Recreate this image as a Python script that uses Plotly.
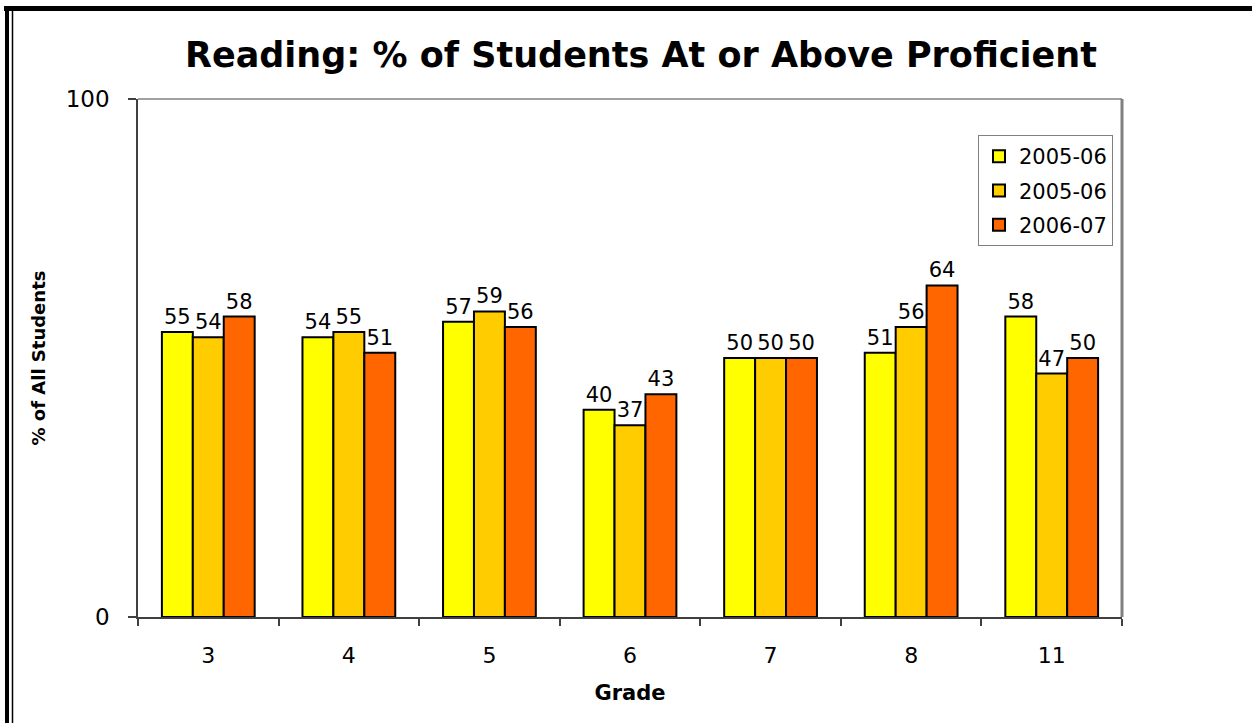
import plotly.graph_objects as go

# Reading proficiency by grade, three series
grades = ["3", "4", "5", "6", "7", "8", "11"]
series_names = ["2005-06", "2005-06", "2006-07"]
values_a = [55, 54, 57, 40, 50, 51, 58]
values_b = [54, 55, 59, 37, 50, 56, 47]
values_c = [58, 51, 56, 43, 50, 64, 50]
colors = ["#FFFF00", "#FFCC00", "#FF6600"]

W, H = 1252, 723
L, R, T, B = 138, 1122, 99, 617  # plot area in pixels

def px(X):
    return (X - L) / (R - L)

def py(Y):
    return (B - Y) / (B - T)

font = "DejaVu Sans, Arial"

fig = go.Figure()
for i, (name, vals, col) in enumerate(zip(series_names, [values_a, values_b, values_c], colors)):
    fig.add_trace(go.Bar(
        x=grades, y=vals, name=name, legendgroup=f"g{i}",
        marker=dict(color=col, line=dict(color="#000000", width=2)),
        text=[str(v) for v in vals], textposition="outside",
        textfont=dict(family=font, size=21, color="#000000"),
        cliponaxis=False,
    ))

fig.update_layout(
    width=W, height=H,
    margin=dict(l=L, r=W - R, t=T, b=H - B),
    paper_bgcolor="white", plot_bgcolor="white",
    barmode="group", bargap=0.34, bargroupgap=0,
    title=dict(text="<b>Reading: % of Students At or Above Proficient</b>",
               x=(641 / W), xanchor="center", y=1 - 55 / H, yanchor="middle",
               font=dict(family=font, size=35, color="#000000")),
    legend=dict(x=px(978), y=py(135), xanchor="left", yanchor="top",
                bordercolor="#808080", borderwidth=1, bgcolor="white",
                font=dict(family=font, size=21, color="#000000"),
                itemwidth=30, tracegroupgap=4),
    showlegend=True,
    xaxis=dict(
        type="category", tickson="boundaries", ticks="outside", ticklen=7,
        tickcolor="#404040", tickwidth=1.5,
        showline=True, linecolor="#404040", linewidth=1.5,
        showgrid=False, ticklabelstandoff=18,
        tickfont=dict(family=font, size=22, color="#000000"),
        title=dict(text="<b>Grade</b>", standoff=18,
                   font=dict(family=font, size=21, color="#000000")),
    ),
    yaxis=dict(
        range=[0, 100], tickvals=[0, 100], ticks="outside", ticklen=8,
        tickcolor="#404040", tickwidth=1.5,
        showline=True, linecolor="#404040", linewidth=1.5,
        showgrid=False, zeroline=False, ticklabelstandoff=14,
        tickfont=dict(family=font, size=23, color="#000000"),
        title=dict(text="<b>% of All Students</b>", standoff=15,
                   font=dict(family=font, size=18, color="#000000")),
    ),
)

# Plot-area frame (top and right edges in gray)
fig.add_shape(type="line", xref="paper", yref="paper", x0=0, x1=1, y0=1, y1=1,
              line=dict(color="#808080", width=1.5))
fig.add_shape(type="line", xref="paper", yref="paper", x0=1, x1=1, y0=0, y1=1,
              line=dict(color="#808080", width=3))

# Outer page border: thick top rule and double left rule
fig.add_shape(type="line", xref="paper", yref="paper",
              x0=px(4), x1=px(W + 5), y0=py(8.5), y1=py(8.5),
              line=dict(color="#000000", width=5))
fig.add_shape(type="line", xref="paper", yref="paper",
              x0=px(7), x1=px(7), y0=py(6), y1=py(H + 5),
              line=dict(color="#000000", width=4))
fig.add_shape(type="line", xref="paper", yref="paper",
              x0=px(12.5), x1=px(12.5), y0=py(11), y1=py(H + 5),
              line=dict(color="#000000", width=1.5))

fig.write_html("out.html")
